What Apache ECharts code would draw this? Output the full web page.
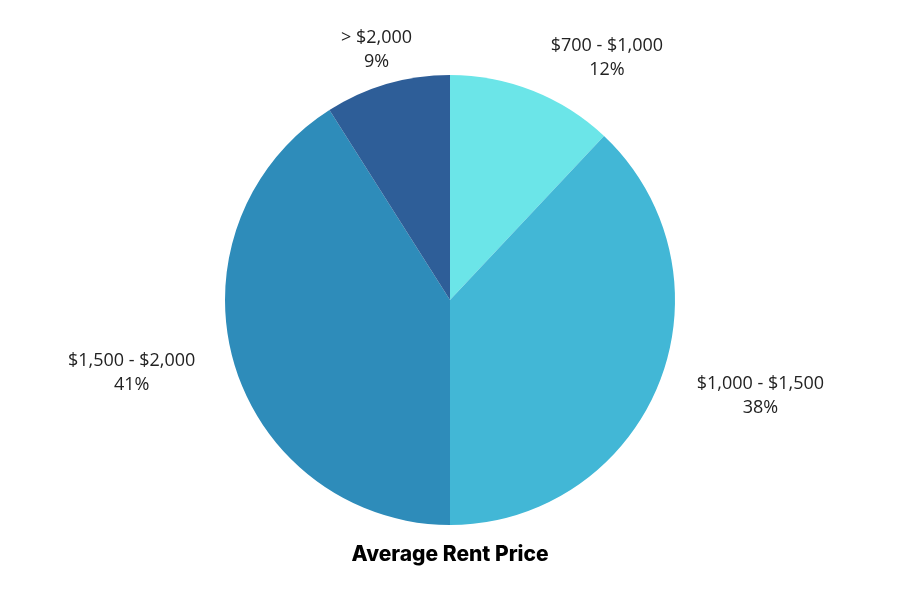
<!DOCTYPE html>
<html><head><meta charset="utf-8">
<script src="https://cdn.jsdelivr.net/npm/echarts@6/dist/echarts.min.js"></script>
<style>html,body{margin:0;padding:0;background:#fff}#c{width:900px;height:600px}</style>
</head><body><div id="c"></div>
<script>
const categories = ['$700 - $1,000', '$1,000 - $1,500', '$1,500 - $2,000', '> $2,000'];
const values = [12, 38, 41, 9];
const colors = ['#6BE5E8', '#42B7D6', '#2E8CBA', '#2E5E98'];
const title = 'Average Rent Price';

const chart = echarts.init(document.getElementById('c'), null, {renderer: 'canvas'});
chart.setOption({
  animation: false,
  title: {
    text: title, left: 'center', top: 539,
    textStyle: {fontFamily: 'Inter', fontWeight: 800, fontSize: 21, color: '#000'}
  },
  series: [{
    type: 'pie',
    center: ['50%', '50%'],
    radius: [0, 225],
    startAngle: 90,
    clockwise: true,
    avoidLabelOverlap: false,
    data: categories.map((c, i) => ({name: c, value: values[i], itemStyle: {color: colors[i]}})),
    label: {
      show: true, position: 'outside',
      formatter: p => p.name + '\n' + p.value + '%',
      fontFamily: 'Open Sans', fontSize: 18, lineHeight: 24, color: '#222'
    },
    labelLine: {show: false, length: 35, length2: 0},
    labelLayout: function (params) {
      const r = params.labelRect;
      const cx = params.dataIndex === 3 ? r.x + r.width + 4 : r.x + r.width / 2;
      return {x: cx, y: r.y + r.height / 2, align: 'center', verticalAlign: 'middle'};
    }
  }]
});
</script></body></html>
